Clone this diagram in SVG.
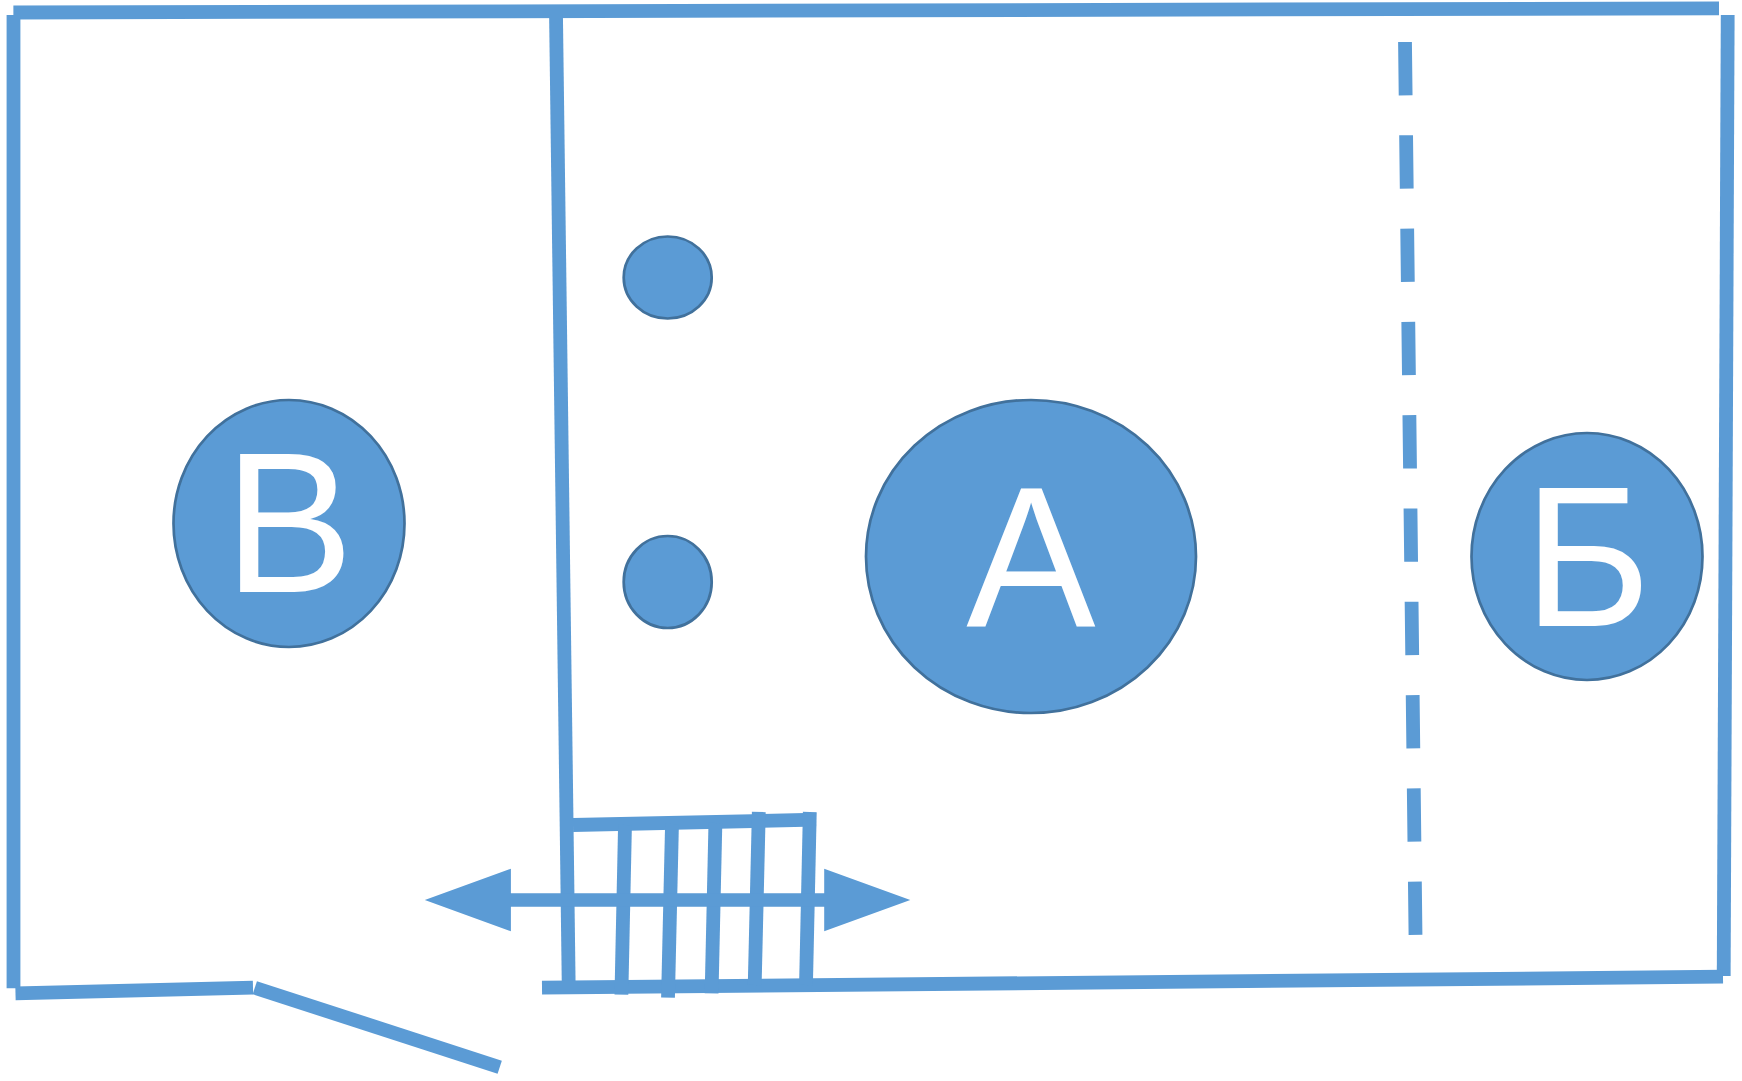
<svg xmlns="http://www.w3.org/2000/svg" width="1742" height="1081" viewBox="0 0 1742 1081">
<style>
.w{fill:none;stroke:#5b9bd5;stroke-width:13.8;stroke-linecap:butt}
.d{stroke-dasharray:53.3 40}
.n{fill:#5b9bd5;stroke:#41719c;stroke-width:2.7}
.t{fill:#fff;font-family:"Liberation Sans",Arial,sans-serif;font-size:200px;text-anchor:middle}
.a{fill:#5b9bd5}
</style>
<rect width="1742" height="1081" fill="#fff"/>
<g id="connectors">
<line class="w" x1="13.4" y1="12.5" x2="1719" y2="8.3"/>
<line class="w" x1="13.5" y1="15" x2="13.5" y2="988.3"/>
<line class="w" x1="1727.7" y1="15" x2="1723.7" y2="976"/>
<line class="w" x1="556" y1="14" x2="568.7" y2="985"/>
<line class="w" x1="542" y1="987.7" x2="1723" y2="976.7"/>
<line class="w" x1="15.5" y1="993.3" x2="253" y2="987.7"/>
<line class="w" x1="254.8" y1="987.7" x2="499.7" y2="1067.3"/>
<line class="w d" x1="1405" y1="42" x2="1415.5" y2="935.3"/>
<line class="w" x1="573" y1="825" x2="816" y2="819.7"/>
<line class="w" x1="625" y1="825" x2="621.4" y2="994.7"/>
<line class="w" x1="672" y1="824" x2="668" y2="997.7"/>
<line class="w" x1="715.4" y1="823" x2="711.6" y2="993.3"/>
<line class="w" x1="758.8" y1="812" x2="754.7" y2="985"/>
<line class="w" x1="809.8" y1="812" x2="806" y2="985"/>
<polygon class="a" points="424.8,900 510.9,868.7 510.9,893.3 824.2,893.3 824.2,868.7 910.3,900 824.2,931.3 824.2,906.7 510.9,906.7 510.9,931.3"/>
</g>
<g id="node-v"><ellipse class="n" cx="289" cy="523.5" rx="115.5" ry="123.5"/><text class="t" transform="translate(289 592) scale(.97 1)">В</text></g>
<g id="node-a"><ellipse class="n" cx="1031" cy="556.5" rx="165" ry="156.5"/><text class="t" transform="translate(1031 625.5) scale(.97 1)">А</text></g>
<g id="node-b"><ellipse class="n" cx="1587" cy="556.5" rx="115.5" ry="123.5"/><text class="t" transform="translate(1587.5 625.5) scale(.97 1)">Б</text></g>
<g id="node-dot1"><ellipse class="n" cx="667.7" cy="277.5" rx="44" ry="41"/></g>
<g id="node-dot2"><ellipse class="n" cx="667.7" cy="582" rx="44" ry="46"/></g>
</svg>
